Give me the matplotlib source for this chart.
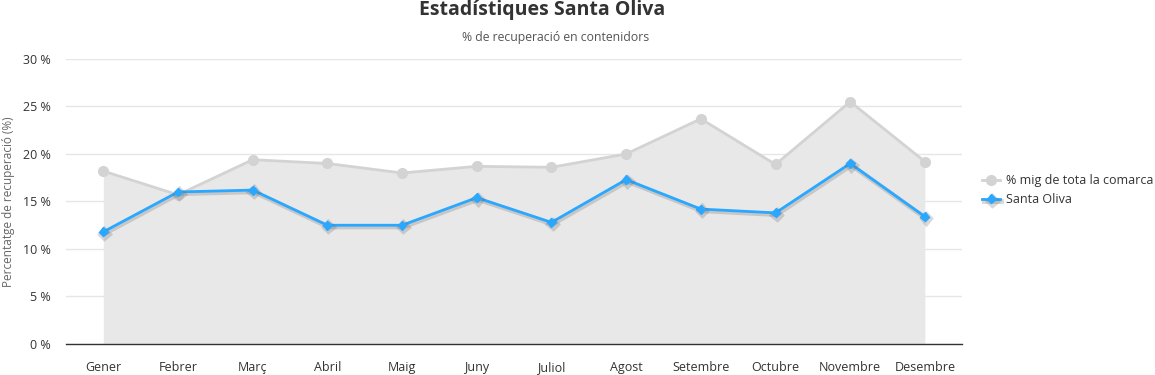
import matplotlib.pyplot as plt
import matplotlib.patheffects as pe
import numpy as np

plt.rcParams['font.family'] = ['Open Sans', 'DejaVu Sans']

# Dades
mesos = ['Gener', 'Febrer', 'Març', 'Abril', 'Maig', 'Juny', 'Juliol', 'Agost',
         'Setembre', 'Octubre', 'Novembre', 'Desembre']
mitjana_comarca = [18.2, 15.7, 19.4, 19.0, 18.0, 18.7, 18.6, 20.0, 23.7, 18.9, 25.5, 19.2]
santa_oliva = [11.8, 16.0, 16.2, 12.5, 12.5, 15.4, 12.8, 17.3, 14.2, 13.8, 19.0, 13.4]

fig = plt.figure(figsize=(11.55, 3.75), dpi=100)
ax = fig.add_axes([0.0571, 0.0827, 0.776, 0.760])

x = np.arange(len(mesos))

# Mitjana comarca (àrea)
ax.fill_between(x, 0, mitjana_comarca, color='#e8e8e8', zorder=1, linewidth=0)
ax.plot(x, mitjana_comarca, color='#d3d3d3', linewidth=2, marker='o', markersize=7,
        label='% mig de tota la comarca', zorder=2)

# Santa Oliva (línia amb ombra)
ax.plot(x, santa_oliva, color='#2aa7ff', linewidth=2, marker='D', markersize=4.5,
        label='Santa Oliva', zorder=3,
        path_effects=[pe.SimpleLineShadow(offset=(0.8, -1.2), shadow_color='#666666', alpha=0.25,
                                          linewidth=3.5),
                      pe.Normal()])

ax.set_xlim(-0.5, len(mesos) - 0.5)
ax.set_ylim(0, 30)
ax.set_yticks(range(0, 31, 5))
ax.set_yticklabels([f'{v} %' for v in range(0, 31, 5)])
ax.set_xticks(x)
ax.set_xticklabels(mesos)
ax.tick_params(axis='both', length=0, labelsize=9, colors='#333333')
ax.tick_params(axis='x', pad=12)
ax.tick_params(axis='y', pad=11)
ax.grid(axis='y', color='#e6e6e6', linewidth=1, zorder=0)
ax.set_axisbelow(True)
for s in ['top', 'right', 'left']:
    ax.spines[s].set_visible(False)
ax.spines['bottom'].set_color('#333333')
ax.spines['bottom'].set_linewidth(1)
ax.spines['bottom'].set_zorder(4)

ax.set_ylabel('Percentatge de recuperació (%)', fontsize=8.5, color='#666666')
ax.yaxis.set_label_coords(-0.057, 0.5)

fig.text(0.469, 0.973, 'Estadístiques Santa Oliva', ha='center', va='center',
         fontsize=14, fontweight='bold', color='#333333')
fig.text(0.481, 0.901, '% de recuperació en contenidors', ha='center', va='center',
         fontsize=8.8, color='#555555')

ax.legend(loc='center left', bbox_to_anchor=(1.01, 0.54), frameon=False,
          fontsize=9, labelcolor='#333333', handlelength=1.4, handletextpad=0.5,
          labelspacing=0.5)

plt.savefig('out.png', dpi=100)
